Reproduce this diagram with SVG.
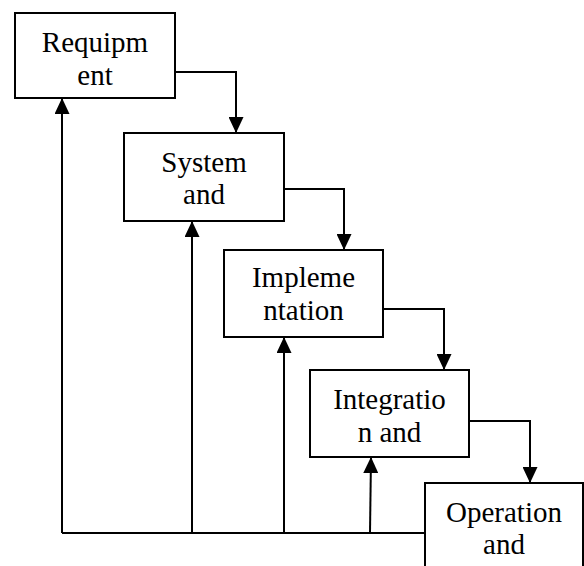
<svg xmlns="http://www.w3.org/2000/svg" width="584" height="566" viewBox="0 0 584 566">
  <style>
    .box { fill: #ffffff; stroke: #000000; stroke-width: 2; }
    .link { fill: none; stroke: #000000; stroke-width: 2; }
    .arrow { marker-end: url(#head); }
  </style>
  <defs>
    <marker id="head" markerUnits="userSpaceOnUse" markerWidth="17" markerHeight="15" refX="16" refY="7.5" orient="auto" viewBox="0 0 17 15">
      <path d="M0,0 L16,7.5 L0,15 z" fill="#000000"/>
    </marker>
  </defs>
  <rect width="584" height="566" fill="#ffffff"/>

  <!-- phase boxes, stepping down to the right -->
  <g id="requirement">
    <rect class="box" x="15" y="13" width="160" height="85"/>
    <text x="95" y="52" font-family="Liberation Serif" font-size="29" text-anchor="middle">Requipm</text>
    <text x="95" y="85" font-family="Liberation Serif" font-size="29" text-anchor="middle">ent</text>
  </g>
  <g id="system">
    <rect class="box" x="124" y="133" width="160" height="88"/>
    <text x="204" y="172" font-family="Liberation Serif" font-size="29" text-anchor="middle">System</text>
    <text x="204" y="204" font-family="Liberation Serif" font-size="29" text-anchor="middle">and</text>
  </g>
  <g id="implementation">
    <rect class="box" x="224" y="250" width="159" height="87"/>
    <text x="303.5" y="287" font-family="Liberation Serif" font-size="29" text-anchor="middle">Impleme</text>
    <text x="303.5" y="320" font-family="Liberation Serif" font-size="29" text-anchor="middle">ntation</text>
  </g>
  <g id="integration">
    <rect class="box" x="310" y="370" width="159" height="87"/>
    <text x="389.5" y="409" font-family="Liberation Serif" font-size="29" text-anchor="middle">Integratio</text>
    <text x="389.5" y="442" font-family="Liberation Serif" font-size="29" text-anchor="middle">n and</text>
  </g>
  <g id="operation">
    <rect class="box" x="425" y="483" width="158" height="100"/>
    <text x="504" y="522" font-family="Liberation Serif" font-size="29" text-anchor="middle">Operation</text>
    <text x="504" y="554" font-family="Liberation Serif" font-size="29" text-anchor="middle">and</text>
  </g>

  <g id="connectors">
    <!-- forward flow -->
    <path class="link arrow" d="M175,72 H236 V133"/>
    <path class="link arrow" d="M284,189 H344 V250"/>
    <path class="link arrow" d="M383,309 H444 V370"/>
    <path class="link arrow" d="M469,421 H530 V483"/>
    <!-- feedback bus -->
    <path class="link" d="M425,533 H62"/>
    <path class="link arrow" d="M62,533 V98"/>
    <path class="link arrow" d="M192,533 V221"/>
    <path class="link arrow" d="M284,533 V337"/>
    <path class="link arrow" d="M370,533 L371,457"/>
  </g>
</svg>
